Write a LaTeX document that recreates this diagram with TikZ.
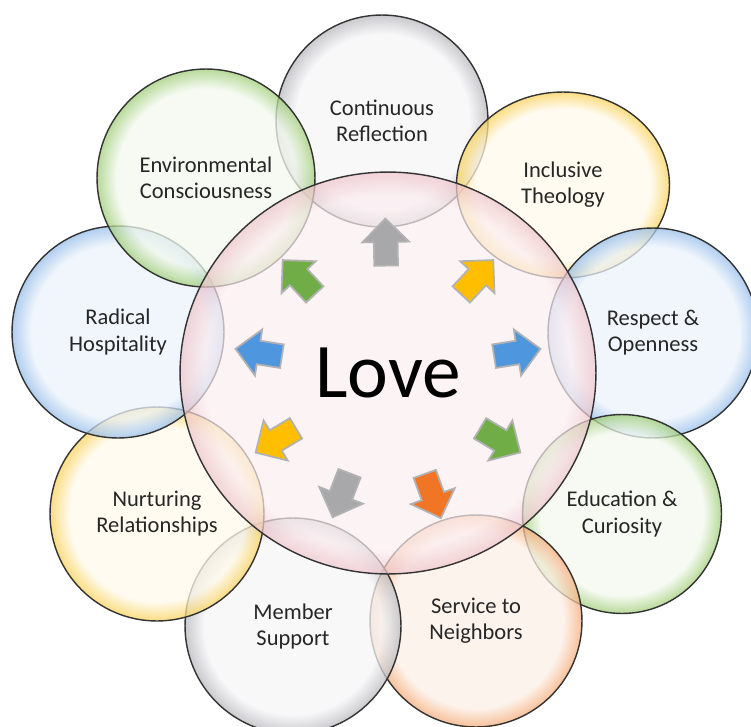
\documentclass[tikz,border=0pt]{standalone}
\usepackage{fontspec}
\setmainfont{Carlito}
\usetikzlibrary{shapes.geometric,shapes.arrows,calc}

\definecolor{greyin}{RGB}{246,246,248}
\definecolor{greyrim}{RGB}{185,185,190}
\definecolor{greenin}{RGB}{243,249,238}
\definecolor{greenrim}{RGB}{160,206,120}
\definecolor{yellowin}{RGB}{255,250,235}
\definecolor{yellowrim}{RGB}{250,210,90}
\definecolor{bluein}{RGB}{236,243,251}
\definecolor{bluerim}{RGB}{150,190,235}
\definecolor{orangein}{RGB}{253,240,231}
\definecolor{orangerim}{RGB}{245,172,122}
\definecolor{pinkin}{RGB}{251,238,241}
\definecolor{pinkrim}{RGB}{238,196,202}

\definecolor{arrgrey}{RGB}{168,168,170}
\definecolor{arryellow}{RGB}{255,190,0}
\definecolor{arrblue}{RGB}{78,150,222}
\definecolor{arrgreen}{RGB}{112,173,71}
\definecolor{arrorange}{RGB}{240,118,38}

\newcommand{\bubbleshade}[4]{\pgfdeclareradialshading{#1}{\pgfpoint{0bp}{0bp}}{color(0bp)=(#2); color(#4)=(#2); color(25bp)=(#3); color(50bp)=(#3)}}
\bubbleshade{greybub}{greyin}{greyrim}{20.5bp}
\bubbleshade{greenbub}{greenin}{greenrim}{20.5bp}
\bubbleshade{yellowbub}{yellowin}{yellowrim}{20.5bp}
\bubbleshade{bluebub}{bluein}{bluerim}{20.5bp}
\bubbleshade{orangebub}{orangein}{orangerim}{20.5bp}
\bubbleshade{pinkbub}{pinkin}{pinkrim}{22bp}

\begin{document}
\begin{tikzpicture}[
    x=0.02cm, y=-0.02cm,
    every node/.style={font=\fontsize{12.8}{14.8}\selectfont, text=black!85},
    bubble/.style={circle, draw=black!80, line width=0.8pt, shade, shading=#1, fill opacity=0.75, text opacity=1, draw opacity=1, inner sep=0pt, align=center},
    blockarrow/.style={single arrow, draw=black!30, line width=1pt, inner xsep=0pt, inner ysep=0.22cm, single arrow head extend=0.23cm, single arrow tip angle=90, minimum height=0.94cm}
]
\path[use as bounding box, fill=white] (0,0) rectangle (751,727);

\node[bubble=greybub, minimum size=4.24cm] (refl) at (382,121) {Continuous\\Reflection};
\node[bubble=yellowbub, ellipse, minimum width=4.26cm, minimum height=3.72cm] (incl) at (563,185) {Inclusive\\Theology};
\node[bubble=bluebub, minimum size=4.2cm] (resp) at (653,333) {Respect \&\\Openness};
\node[bubble=greenbub, minimum size=3.98cm] (educ) at (622,514) {Education \&\\Curiosity};
\node[bubble=orangebub, minimum size=4.24cm] (serv) at (476,621) {Service to\\Neighbors};
\node[bubble=greybub, minimum size=4.32cm] (memb) at (293,626) {Member\\Support};
\node[bubble=yellowbub, minimum size=4.28cm] (nurt) at (157,514) {Nurturing\\Relationships};
\node[bubble=bluebub, minimum size=4.24cm] (radi) at (118,332) {Radical\\Hospitality};
\node[bubble=greenbub, minimum size=4.36cm] (envi) at (206,178) {Environmental\\Consciousness};

\node[bubble=pinkbub, ellipse, minimum width=8.32cm, minimum height=8.04cm, fill opacity=0.7, font=\fontsize{44}{50}\selectfont, text=black] (love) at (388,373) {Love};

\foreach \a/\c/\n in {91/arrgrey/refl, 47/arryellow/incl, 9/arrblue/resp, -31/arrgreen/educ, -70/arrorange/serv, -111/arrgrey/memb, -149/arryellow/nurt, 171/arrblue/radi, 133/arrgreen/envi}
    \node[blockarrow, fill=\c, rotate=\a] (to\n) at ($(love)+(\a:2.5cm)$) {};
\end{tikzpicture}
\end{document}
